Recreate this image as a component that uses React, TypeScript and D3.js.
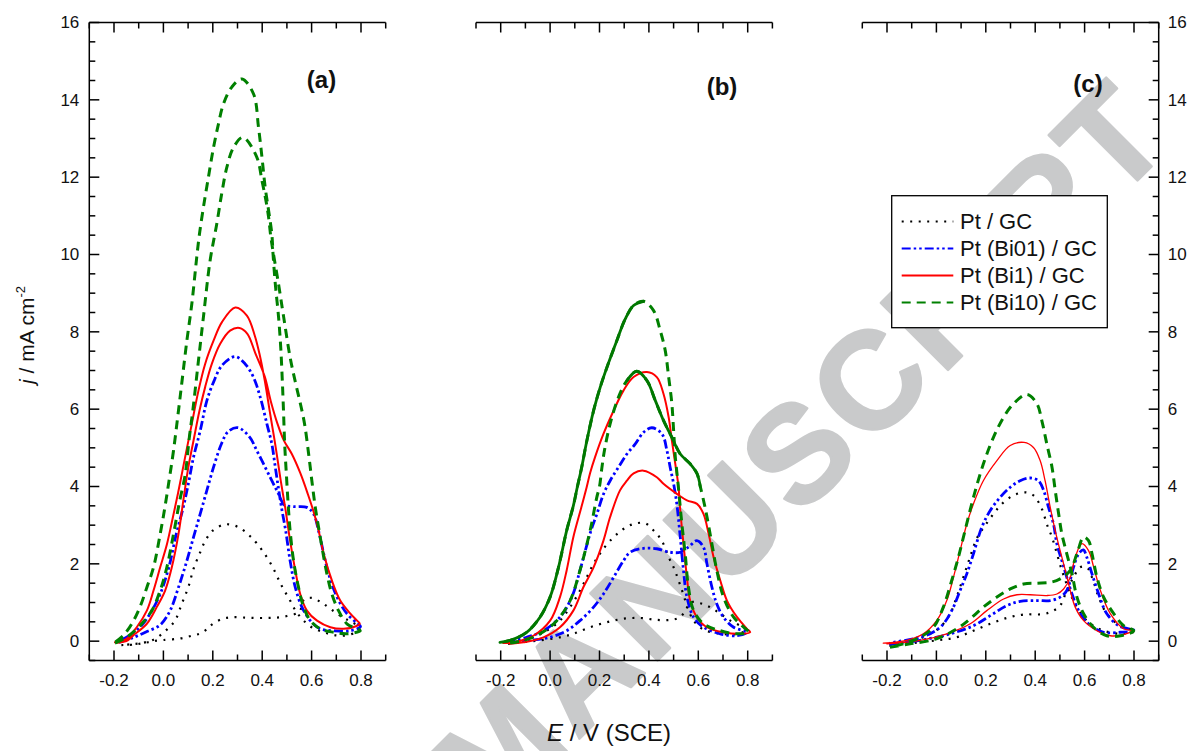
import React from "react";
import * as d3 from "d3";

type Pt = [number, number];

// ---------- axis ticks ----------
const X_MAJOR = [-0.2, 0, 0.2, 0.4, 0.6, 0.8];
const X_LABELS = ["-0.2", "0.0", "0.2", "0.4", "0.6", "0.8"];
const X_MINOR = [-0.3, -0.1, 0.1, 0.3, 0.5, 0.7, 0.9];
const Y_MAJOR = [0, 2, 4, 6, 8, 10, 12, 14, 16];
const Y_MINOR = [-0.5, 0.5, 1, 1.5, 2.5, 3, 3.5, 4.5, 5, 5.5, 6.5, 7, 7.5, 8.5, 9, 9.5, 10.5, 11, 11.5, 12.5, 13, 13.5, 14.5, 15, 15.5];

const SERIES = ["Pt / GC", "Pt (Bi01) / GC", "Pt (Bi1) / GC", "Pt (Bi10) / GC"];
const PANELS = ["(a)", "(b)", "(c)"];
const WATERMARK = "MANUSCRIPT";

// ---------- panel (a) ----------
const PT_A_FWD: Pt[] = [[-0.17,-0.1],[-0.12,-0.09],[-0.08,-0.05],[-0.04,0.0],[0.0,0.03],[0.07,0.07],[0.12,0.15],[0.15,0.2],[0.18,0.33],[0.2,0.45],[0.24,0.58],[0.28,0.62],[0.33,0.61],[0.37,0.6],[0.42,0.6],[0.46,0.61],[0.5,0.65],[0.55,0.76],[0.57,1.08],[0.6,1.12],[0.64,1.0],[0.68,0.82],[0.72,0.64],[0.76,0.5],[0.795,0.36]];
const PT_A_REV: Pt[] = [[0.78,0.24],[0.74,0.15],[0.7,0.15],[0.649,0.23],[0.6,0.36],[0.561,0.58],[0.534,0.8],[0.513,1.05],[0.493,1.27],[0.473,1.5],[0.453,1.78],[0.419,2.17],[0.378,2.53],[0.345,2.75],[0.3,2.96],[0.25,3.02],[0.2,2.86],[0.17,2.6],[0.149,2.3],[0.122,1.87],[0.101,1.4],[0.074,0.96],[0.047,0.53],[0.014,0.3],[-0.034,0.06],[-0.08,-0.04],[-0.13,-0.08],[-0.17,-0.1]];

const BI01_A_FWD: Pt[] = [[-0.18,-0.03],[-0.12,0.1],[-0.067,0.25],[-0.013,0.42],[0.027,0.79],[0.061,1.39],[0.095,2.08],[0.122,2.69],[0.149,3.29],[0.176,3.9],[0.203,4.5],[0.236,5.12],[0.262,5.42],[0.302,5.52],[0.35,5.27],[0.378,4.93],[0.412,4.5],[0.439,4.15],[0.466,3.81],[0.49,3.52],[0.527,3.48],[0.581,3.46],[0.608,3.29],[0.628,2.86],[0.649,2.26],[0.669,1.74],[0.703,1.14],[0.743,0.71],[0.785,0.46],[0.798,0.38]];
const BI01_A_REV: Pt[] = [[0.757,0.27],[0.689,0.27],[0.635,0.32],[0.595,0.53],[0.561,0.88],[0.534,1.39],[0.513,2.08],[0.495,2.86],[0.478,3.46],[0.466,3.95],[0.453,4.5],[0.439,5.1],[0.419,5.62],[0.392,6.31],[0.365,6.82],[0.331,7.17],[0.29,7.36],[0.237,7.13],[0.203,6.7],[0.176,6.22],[0.149,5.44],[0.122,4.76],[0.101,4.07],[0.08,3.45],[0.052,2.77],[0.022,1.91],[-0.013,1.22],[-0.054,0.71],[-0.095,0.36],[-0.149,0.1],[-0.196,-0.03]];

const BI1_A_FWD: Pt[] = [[-0.19,-0.04],[-0.15,0.0],[-0.122,0.15],[-0.067,0.45],[-0.027,0.88],[0.007,1.31],[0.034,1.91],[0.061,2.77],[0.082,3.7],[0.101,4.5],[0.122,5.19],[0.146,5.96],[0.169,6.57],[0.196,7.17],[0.23,7.69],[0.27,8.03],[0.308,8.1],[0.34,7.95],[0.372,7.45],[0.41,6.85],[0.435,6.2],[0.462,5.62],[0.487,5.2],[0.52,4.84],[0.554,4.35],[0.585,3.8],[0.608,3.35],[0.627,2.9],[0.649,2.26],[0.682,1.57],[0.716,1.05],[0.757,0.71],[0.784,0.53],[0.795,0.45]];
const BI1_A_REV: Pt[] = [[0.777,0.38],[0.73,0.32],[0.676,0.36],[0.622,0.53],[0.581,0.79],[0.554,1.22],[0.534,1.83],[0.513,2.6],[0.493,3.46],[0.475,4.15],[0.455,5.0],[0.433,5.85],[0.41,6.75],[0.39,7.4],[0.37,7.9],[0.338,8.42],[0.291,8.63],[0.237,8.25],[0.203,7.77],[0.169,7.17],[0.142,6.48],[0.115,5.62],[0.088,4.76],[0.06,3.85],[0.035,3.1],[0.014,2.5],[-0.013,1.91],[-0.04,1.31],[-0.067,0.79],[-0.108,0.36],[-0.149,0.06],[-0.196,-0.03]];

const BI10_A_FWD: Pt[] = [[-0.196,-0.05],[-0.149,0.1],[-0.095,0.4],[-0.047,0.79],[-0.013,1.31],[0.014,1.91],[0.041,2.77],[0.065,3.6],[0.088,4.3],[0.105,5.27],[0.119,5.96],[0.142,7.26],[0.162,8.38],[0.189,9.84],[0.216,10.79],[0.236,11.57],[0.257,12.26],[0.284,12.77],[0.322,13.03],[0.378,12.52],[0.399,11.91],[0.415,11.4],[0.426,10.96],[0.435,10.45],[0.446,10.0],[0.466,9.24],[0.487,8.38],[0.513,7.34],[0.536,6.65],[0.556,6.1],[0.572,5.6],[0.588,4.84],[0.601,4.15],[0.615,3.46],[0.628,2.95],[0.642,2.43],[0.662,1.74],[0.682,1.22],[0.709,0.79],[0.743,0.45],[0.784,0.32],[0.797,0.27]];
const BI10_A_REV: Pt[] = [[0.743,0.19],[0.689,0.23],[0.635,0.32],[0.595,0.53],[0.568,0.88],[0.547,1.39],[0.527,2.08],[0.513,2.86],[0.505,3.55],[0.498,4.3],[0.491,5.1],[0.486,6.0],[0.481,6.8],[0.475,7.6],[0.466,8.4],[0.453,9.24],[0.444,10.0],[0.439,10.53],[0.426,11.13],[0.412,11.74],[0.399,12.52],[0.385,13.29],[0.365,14.15],[0.318,14.54],[0.277,14.33],[0.243,13.89],[0.223,13.38],[0.203,12.77],[0.182,11.99],[0.162,11.22],[0.146,10.53],[0.135,9.93],[0.115,8.72],[0.095,7.77],[0.074,6.65],[0.061,5.96],[0.041,4.93],[0.025,4.24],[0.007,3.5],[-0.013,2.77],[-0.04,1.91],[-0.067,1.39],[-0.095,0.88],[-0.128,0.45],[-0.162,0.15],[-0.196,-0.03]];

// ---------- panel (b) ----------
const PT_B_FWD: Pt[] = [[-0.17,-0.07],[-0.1,-0.02],[-0.041,0.02],[0.04,0.1],[0.094,0.19],[0.162,0.36],[0.23,0.49],[0.297,0.58],[0.365,0.6],[0.432,0.55],[0.486,0.55],[0.52,0.6],[0.545,0.75],[0.567,1.0],[0.608,0.98],[0.648,0.88],[0.689,0.71],[0.73,0.53],[0.784,0.36],[0.8,0.3]];
const PT_B_REV: Pt[] = [[0.75,0.18],[0.68,0.2],[0.62,0.3],[0.585,0.5],[0.56,0.8],[0.54,1.2],[0.52,1.57],[0.5,1.91],[0.48,2.17],[0.452,2.6],[0.419,2.86],[0.385,3.05],[0.338,3.03],[0.297,2.9],[0.257,2.69],[0.216,2.39],[0.176,2.0],[0.148,1.65],[0.121,1.31],[0.081,0.88],[0.04,0.53],[-0.014,0.27],[-0.068,0.1],[-0.12,0.0],[-0.17,-0.07]];

const BI01_B_FWD: Pt[] = [[-0.162,-0.03],[-0.081,0.02],[0.0,0.1],[0.067,0.27],[0.121,0.53],[0.176,0.88],[0.216,1.22],[0.257,1.65],[0.297,2.08],[0.324,2.3],[0.378,2.4],[0.432,2.39],[0.486,2.3],[0.527,2.3],[0.56,2.43],[0.594,2.6],[0.621,2.43],[0.635,2.0],[0.655,1.4],[0.675,0.96],[0.702,0.62],[0.743,0.36],[0.797,0.23]];
const BI01_B_REV: Pt[] = [[0.757,0.14],[0.689,0.19],[0.621,0.36],[0.581,0.62],[0.554,1.14],[0.54,1.83],[0.527,2.69],[0.513,3.55],[0.5,4.07],[0.486,4.5],[0.473,4.93],[0.453,5.36],[0.412,5.52],[0.378,5.4],[0.345,5.1],[0.311,4.84],[0.277,4.5],[0.243,4.15],[0.216,3.8],[0.19,3.3],[0.165,2.85],[0.145,2.4],[0.121,1.83],[0.088,1.14],[0.04,0.62],[-0.027,0.27],[-0.095,0.1],[-0.162,0.0]];

const BI1_B_FWD: Pt[] = [[-0.162,-0.07],[-0.108,-0.03],[-0.027,0.1],[0.04,0.36],[0.094,0.79],[0.135,1.4],[0.176,1.91],[0.216,2.6],[0.243,3.21],[0.283,3.9],[0.311,4.15],[0.338,4.34],[0.378,4.41],[0.432,4.24],[0.459,4.07],[0.513,3.81],[0.554,3.64],[0.595,3.55],[0.621,3.29],[0.642,2.77],[0.662,2.17],[0.689,1.57],[0.716,1.05],[0.757,0.62],[0.797,0.32],[0.81,0.23]];
const BI1_B_REV: Pt[] = [[0.77,0.19],[0.702,0.23],[0.635,0.36],[0.594,0.62],[0.567,1.05],[0.554,1.65],[0.54,2.52],[0.527,3.38],[0.52,3.98],[0.507,4.58],[0.493,5.19],[0.48,5.79],[0.459,6.4],[0.432,6.83],[0.392,6.96],[0.338,6.83],[0.297,6.48],[0.257,5.96],[0.216,5.36],[0.182,4.76],[0.162,4.35],[0.148,3.98],[0.126,3.45],[0.094,2.69],[0.067,1.83],[0.04,1.14],[0.0,0.53],[-0.068,0.14],[-0.149,-0.03],[-0.19,-0.05]];

const BI10_B_FWD: Pt[] = [[-0.162,-0.05],[-0.108,0.02],[-0.041,0.19],[0.027,0.53],[0.081,1.05],[0.121,1.83],[0.162,2.86],[0.189,3.72],[0.2,4.0],[0.21,4.5],[0.22,4.93],[0.243,5.62],[0.277,6.31],[0.311,6.74],[0.351,6.98],[0.392,6.74],[0.426,6.22],[0.459,5.71],[0.493,5.27],[0.527,4.84],[0.568,4.58],[0.595,4.33],[0.608,4.0],[0.63,3.38],[0.655,2.52],[0.675,1.83],[0.702,1.14],[0.743,0.62],[0.784,0.36],[0.804,0.23]];
const BI10_B_REV: Pt[] = [[0.757,0.19],[0.689,0.27],[0.621,0.45],[0.581,0.79],[0.56,1.4],[0.547,2.26],[0.534,3.0],[0.525,3.6],[0.516,4.2],[0.507,4.76],[0.5,5.45],[0.493,6.14],[0.48,6.83],[0.466,7.52],[0.446,8.03],[0.419,8.55],[0.378,8.79],[0.338,8.68],[0.304,8.33],[0.27,7.77],[0.23,7.08],[0.203,6.57],[0.176,5.96],[0.149,5.19],[0.128,4.5],[0.11,3.98],[0.094,3.5],[0.067,2.86],[0.034,1.91],[0.0,1.14],[-0.041,0.62],[-0.095,0.23],[-0.162,0.02],[-0.203,-0.03]];

// ---------- panel (c) ----------
const PT_C_FWD: Pt[] = [[-0.19,-0.12],[-0.12,-0.07],[0.0,0.02],[0.082,0.1],[0.15,0.27],[0.218,0.45],[0.285,0.6],[0.353,0.69],[0.434,0.7],[0.474,0.79],[0.501,0.92],[0.528,1.31],[0.555,1.65],[0.582,1.91],[0.609,1.91],[0.63,1.65],[0.657,1.14],[0.69,0.71],[0.745,0.4],[0.805,0.26]];
const PT_C_REV: Pt[] = [[0.758,0.19],[0.677,0.27],[0.609,0.53],[0.569,0.88],[0.542,1.22],[0.522,1.57],[0.504,1.91],[0.488,2.26],[0.468,2.69],[0.447,3.03],[0.427,3.42],[0.393,3.77],[0.359,3.85],[0.312,3.77],[0.265,3.55],[0.231,3.29],[0.197,2.99],[0.163,2.65],[0.136,2.17],[0.109,1.65],[0.082,1.14],[0.055,0.7],[0.015,0.36],[-0.039,0.14],[-0.12,-0.03],[-0.19,-0.1]];

const BI01_C_FWD: Pt[] = [[-0.19,-0.1],[-0.174,-0.07],[-0.066,0.02],[0.056,0.19],[0.15,0.4],[0.218,0.66],[0.285,0.92],[0.339,1.03],[0.407,1.05],[0.461,1.05],[0.501,1.14],[0.528,1.31],[0.555,1.91],[0.576,2.26],[0.595,2.36],[0.609,2.17],[0.63,1.74],[0.657,1.22],[0.69,0.71],[0.738,0.4],[0.805,0.27]];
const BI01_C_REV: Pt[] = [[0.745,0.23],[0.677,0.23],[0.616,0.45],[0.576,0.79],[0.549,1.22],[0.528,1.65],[0.508,2.08],[0.488,2.51],[0.474,3.03],[0.454,3.46],[0.434,3.9],[0.413,4.15],[0.38,4.22],[0.339,4.15],[0.299,3.98],[0.258,3.72],[0.218,3.38],[0.184,2.95],[0.15,2.26],[0.123,1.74],[0.096,1.31],[0.062,0.79],[0.022,0.4],[-0.026,0.19],[-0.093,0.06],[-0.174,-0.03],[-0.19,-0.06]];

const BI1_C_FWD: Pt[] = [[-0.2,-0.07],[-0.066,0.02],[0.042,0.19],[0.137,0.45],[0.204,0.79],[0.272,1.09],[0.326,1.2],[0.38,1.2],[0.447,1.18],[0.488,1.22],[0.515,1.35],[0.542,1.65],[0.562,2.17],[0.589,2.52],[0.616,2.34],[0.637,1.91],[0.664,1.31],[0.704,0.71],[0.758,0.32],[0.792,0.27]];
const BI1_C_REV: Pt[] = [[0.758,0.17],[0.704,0.14],[0.65,0.27],[0.596,0.53],[0.562,0.88],[0.542,1.31],[0.522,1.83],[0.501,2.34],[0.481,2.86],[0.461,3.46],[0.44,4.15],[0.42,4.67],[0.393,5.01],[0.355,5.14],[0.299,5.06],[0.245,4.67],[0.19,4.15],[0.15,3.55],[0.123,3.03],[0.096,2.34],[0.069,1.65],[0.042,1.05],[0.001,0.53],[-0.053,0.19],[-0.12,0.02],[-0.215,-0.05]];

const BI10_C_FWD: Pt[] = [[-0.188,-0.16],[-0.107,-0.07],[0.0,0.06],[0.083,0.32],[0.137,0.58],[0.19,0.88],[0.245,1.14],[0.299,1.35],[0.353,1.48],[0.407,1.5],[0.461,1.52],[0.501,1.61],[0.542,1.83],[0.569,2.26],[0.596,2.69],[0.616,2.6],[0.63,2.26],[0.65,1.65],[0.677,1.14],[0.718,0.71],[0.758,0.4],[0.799,0.27]];
const BI10_C_REV: Pt[] = [[0.745,0.14],[0.69,0.14],[0.636,0.36],[0.596,0.71],[0.569,1.14],[0.549,1.74],[0.528,2.26],[0.508,2.77],[0.495,3.29],[0.481,3.9],[0.468,4.5],[0.447,5.1],[0.427,5.7],[0.407,6.14],[0.366,6.38],[0.312,6.14],[0.272,5.79],[0.231,5.27],[0.19,4.58],[0.15,3.72],[0.116,2.86],[0.089,2.17],[0.062,1.57],[0.028,0.88],[-0.012,0.36],[-0.066,0.1],[-0.134,-0.07],[-0.188,-0.16]];

const DATA: Pt[][][][] = [
  [[PT_A_FWD, PT_A_REV], [BI01_A_FWD, BI01_A_REV], [BI1_A_FWD, BI1_A_REV], [BI10_A_FWD, BI10_A_REV]],
  [[PT_B_FWD, PT_B_REV], [BI01_B_FWD, BI01_B_REV], [BI1_B_FWD, BI1_B_REV], [BI10_B_FWD, BI10_B_REV]],
  [[PT_C_FWD, PT_C_REV], [BI01_C_FWD, BI01_C_REV], [BI1_C_FWD, BI1_C_REV], [BI10_C_FWD, BI10_C_REV]],
];

// ---------- styling ----------
const W = 1192, H = 751;
const TOP = 22.5, BOTTOM = 660.5;
const PANEL_LEFT = [89.3, 476, 862.3];
const PANEL_W = 296.4;
const LABEL_POS: [number, number][] = [[321.5, 80], [722, 87], [1088, 84]];
const FONT = "'Liberation Sans', Arial, Helvetica, sans-serif";

const STYLES = [
  { color: "#000000", width: 2.2, dash: "2,6.5", cap: "butt" },
  { color: "#0000ff", width: 2.8, dash: "9,3,2.5,3,2.5,3", cap: "butt" },
  { color: "#ff0000", width: 2, dash: "", cap: "round" },
  { color: "#008000", width: 3, dash: "9,6", cap: "butt" },
];

const yScale = d3.scaleLinear().domain([-0.5, 16]).range([BOTTOM, TOP]);

export default function App() {
  const panels = PANEL_LEFT.map((left) => d3.scaleLinear().domain([-0.3, 0.9]).range([left, left + PANEL_W]));
  const axisColor = "#000";

  return (
    <svg width={W} height={H} viewBox={`0 0 ${W} ${H}`} style={{ position: "absolute", left: 0, top: 0, background: "#fff" }} fontFamily={FONT}>
      <rect x={0} y={0} width={W} height={H} fill="#fff" />
      {/* watermark */}
      <text transform="translate(1178,140) rotate(-45)" textAnchor="end" fontSize={138} fontWeight="bold"
        fill="#c9cacb" stroke="#c9cacb" strokeWidth={2.5} strokeLinejoin="round" letterSpacing={5}>
        {WATERMARK}
      </text>

      {panels.map((xs, pi) => {
        const line = d3.line<Pt>().x((d) => xs(d[0])).y((d) => yScale(d[1])).curve(d3.curveCatmullRom.alpha(0.5));
        const left = xs.range()[0], right = xs.range()[1];
        return (
          <g key={pi}>
            {DATA[pi].map(([fwd, rev], si) => {
              const st = STYLES[si];
              const w = pi === 2 && si === 2 ? 1.3 : st.width;
              const loop = fwd.concat(rev);
              return (
                <path key={si} d={line(loop) || ""} fill="none" stroke={st.color} strokeWidth={w}
                  strokeDasharray={st.dash || undefined} strokeLinecap={st.cap as any} strokeLinejoin="round" />
              );
            })}
            {pi === 1 && (() => {
              // solid overlay on parts of the Bi10 curve in panel (b)
              const [fwd, rev] = DATA[1][3];
              const fStart = fwd.findIndex((d) => d[0] >= 0.31);
              const fEnd = fwd.findIndex((d) => d[0] >= 0.605 && d[1] <= 4.05);
              const peak = d3.maxIndex(rev, (d) => d[1]);
              return (
                <g fill="none" stroke="#007700" strokeWidth={2.8} strokeLinecap="round">
                  <path d={line(fwd.slice(fStart, fEnd + 1)) || ""} />
                  <path d={line(rev.slice(peak)) || ""} />
                </g>
              );
            })()}

            {/* top & bottom axes */}
            <line x1={left} x2={right} y1={TOP} y2={TOP} stroke={axisColor} strokeWidth={1.5} />
            <line x1={left} x2={right} y1={BOTTOM} y2={BOTTOM} stroke={axisColor} strokeWidth={1.5} />
            {X_MAJOR.map((v, i) => (
              <g key={"xm" + i}>
                <line x1={xs(v)} x2={xs(v)} y1={BOTTOM} y2={BOTTOM - 10} stroke={axisColor} strokeWidth={1.5} />
                <line x1={xs(v)} x2={xs(v)} y1={TOP} y2={TOP + 10} stroke={axisColor} strokeWidth={1.5} />
                <text x={xs(v)} y={686} textAnchor="middle" fontSize={17} fill="#111">{X_LABELS[i]}</text>
              </g>
            ))}
            {X_MINOR.map((v, i) => (
              <g key={"xn" + i}>
                <line x1={xs(v)} x2={xs(v)} y1={BOTTOM} y2={BOTTOM - 6} stroke={axisColor} strokeWidth={1.5} />
                <line x1={xs(v)} x2={xs(v)} y1={TOP} y2={TOP + 6} stroke={axisColor} strokeWidth={1.5} />
              </g>
            ))}

            {/* left axis for (a) */}
            {pi === 0 && (
              <g>
                <line x1={left} x2={left} y1={TOP} y2={BOTTOM} stroke={axisColor} strokeWidth={1.5} />
                {Y_MAJOR.map((v) => (
                  <g key={"ym" + v}>
                    <line x1={left} x2={left + 10} y1={yScale(v)} y2={yScale(v)} stroke={axisColor} strokeWidth={1.5} />
                    <text x={left - 10} y={yScale(v)} dy="0.35em" textAnchor="end" fontSize={17} fill="#111">{v}</text>
                  </g>
                ))}
                {Y_MINOR.map((v) => (
                  <line key={"yn" + v} x1={left} x2={left + 6} y1={yScale(v)} y2={yScale(v)} stroke={axisColor} strokeWidth={1.5} />
                ))}
              </g>
            )}
            {/* right axis for (c) */}
            {pi === 2 && (
              <g>
                <line x1={right} x2={right} y1={TOP} y2={BOTTOM} stroke={axisColor} strokeWidth={1.5} />
                {Y_MAJOR.map((v) => (
                  <g key={"ym" + v}>
                    <line x1={right} x2={right - 10} y1={yScale(v)} y2={yScale(v)} stroke={axisColor} strokeWidth={1.5} />
                    <text x={right + 9} y={yScale(v)} dy="0.35em" textAnchor="start" fontSize={17} fill="#111">{v}</text>
                  </g>
                ))}
                {Y_MINOR.map((v) => (
                  <line key={"yn" + v} x1={right} x2={right - 6} y1={yScale(v)} y2={yScale(v)} stroke={axisColor} strokeWidth={1.5} />
                ))}
              </g>
            )}
            <text x={LABEL_POS[pi][0]} y={LABEL_POS[pi][1]} dy="0.35em" textAnchor="middle" fontSize={24} fontWeight="bold" fill="#111">{PANELS[pi]}</text>
          </g>
        );
      })}

      {/* axis titles */}
      <text transform="translate(34,335) rotate(-90)" textAnchor="middle" fontSize={21} fill="#111">
        <tspan fontStyle="italic">j</tspan> / mA cm<tspan fontSize={13} dy={-9}>-2</tspan>
      </text>
      <text x={609} y={741} textAnchor="middle" fontSize={24} fill="#111">
        <tspan fontStyle="italic">E</tspan> / V (SCE)
      </text>

      {/* legend */}
      <g>
        <rect x={891.7} y={195.7} width={215.6} height={132} fill="#fff" stroke="#000" strokeWidth={1.3} />
        {SERIES.map((name, i) => {
          const y = 221.5 + i * 27;
          const st = STYLES[i];
          return (
            <g key={name}>
              <line x1={901.7} x2={953.3} y1={y} y2={y} stroke={st.color} strokeWidth={i === 0 ? 1.8 : 2.2}
                strokeDasharray={st.dash || undefined} />
              <text x={960} y={y} dy="0.35em" fontSize={22} fill="#111">{name}</text>
            </g>
          );
        })}
      </g>
    </svg>
  );
}
